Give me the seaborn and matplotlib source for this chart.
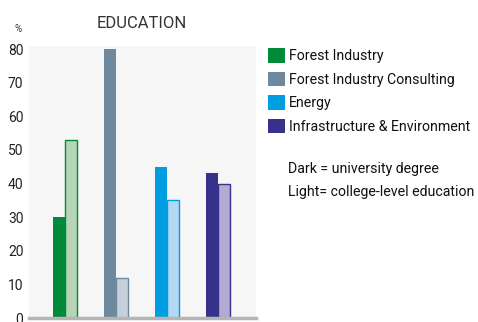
import matplotlib
matplotlib.use("Agg")
import matplotlib.pyplot as plt
import seaborn as sns
import pandas as pd
from matplotlib.patches import Patch

categories = ["Forest Industry", "Forest Industry Consulting", "Energy", "Infrastructure & Environment"]
university = [30, 80, 45, 43]
college = [53, 12, 35, 40]
dark_colors = ["#008a3a", "#6e889e", "#009ee0", "#36318a"]
light_colors = ["#b6d5b6", "#c5d0dc", "#b3d8f1", "#b4aad4"]
yticks = [0, 10, 20, 30, 40, 50, 60, 70, 80]

sns.set_theme(style="white")
plt.rcParams["font.family"] = ["Roboto", "DejaVu Sans"]

df = pd.DataFrame({
    "cat": categories * 2,
    "val": university + college,
    "level": ["Dark"] * 4 + ["Light"] * 4,
})

fig = plt.figure(figsize=(4.78, 3.22), dpi=100)
ax = fig.add_axes([29 / 478, 4 / 322, 227 / 478, 272 / 322])
ax.set_facecolor("#f6f6f6")
sns.barplot(data=df, x="cat", y="val", hue="level", order=categories,
            hue_order=["Dark", "Light"], width=0.47, dodge=True, ax=ax,
            legend=False, saturation=1)
bars = ax.patches[:8]
for i, p in enumerate(bars):
    k = i % 4
    if i < 4:
        p.set_facecolor(dark_colors[k])
        p.set_edgecolor(dark_colors[k])
        p.set_linewidth(0)
    else:
        p.set_facecolor(light_colors[k])
        p.set_edgecolor(dark_colors[k])
        p.set_linewidth(1.0)

ax.set_xlim(-0.71, 3.75)
ax.set_ylim(0, 80.9)
ax.set_yticks(yticks)
ax.set_yticklabels([str(t) for t in yticks], fontsize=10, color="#222222")
ax.set_xticks([])
ax.set_xlabel("")
ax.set_ylabel("")
ax.tick_params(axis="y", length=0, pad=4)
for s in ["top", "right", "left"]:
    ax.spines[s].set_visible(False)
ax.spines["bottom"].set_color("#b5b5b5")
ax.spines["bottom"].set_linewidth(2.5)

fig.text(142 / 478, 1 - 23 / 322, "EDUCATION", ha="center", va="center",
         fontsize=12, color="#333333")
fig.text(18 / 478, 1 - 29 / 322, "%", ha="center", va="center",
         fontsize=7, color="#333333")

handles = [Patch(facecolor=c, edgecolor="none") for c in dark_colors]
fig.legend(handles, categories, loc="upper left",
           bbox_to_anchor=(268 / 478, 1 - 48 / 322), frameon=False,
           fontsize=10.2, handlelength=1.2, handleheight=1.2,
           handletextpad=0.3, labelspacing=0.6, borderaxespad=0,
           borderpad=0, labelcolor="#111111")
fig.text(288 / 478, 1 - 169 / 322, "Dark = university degree", ha="left",
         va="center", fontsize=10.2, color="#111111")
fig.text(288 / 478, 1 - 192 / 322, "Light= college-level education", ha="left",
         va="center", fontsize=10.2, color="#111111")

fig.savefig("out.png", dpi=100)
